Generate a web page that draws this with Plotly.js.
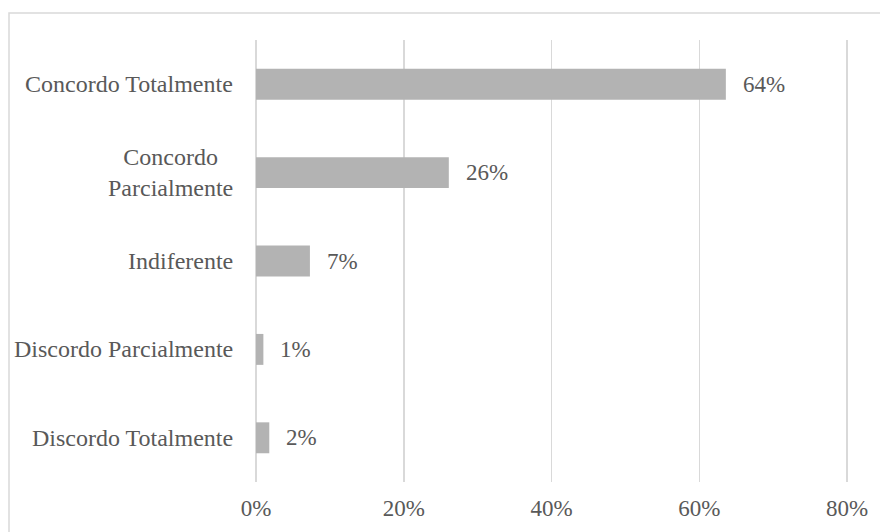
<!DOCTYPE html>
<html>
<head>
<meta charset="utf-8">
<script src="https://cdn.plot.ly/plotly-3.0.1.min.js"></script>
<style>
  html, body { margin: 0; padding: 0; background: #fff; }
  #chart { width: 880px; height: 532px; }
</style>
</head>
<body>
<div id="chart"></div>
<script>
const categories = ["Concordo Totalmente", "Concordo<br>Parcialmente", "Indiferente", "Discordo Parcialmente", "Discordo Totalmente"];
const values = [0.636, 0.261, 0.073, 0.010, 0.018];
const tickValues = [0, 0.2, 0.4, 0.6, 0.8];
const tickLabels = ["0%", "20%", "40%", "60%", "80%"];

const FONT = "Liberation Serif";
const TXT = "#595959";
const FS = 23;
const FS_CAT = 24;

const L = 254, R = 31, T = 40, B = 50;
const W = 880, H = 532;
const pw = W - L - R, ph = H - T - B;

const trace = {
  type: "bar",
  orientation: "h",
  y: categories,
  x: values,
  width: 0.35,
  marker: { color: "#b3b3b3" },
  hoverinfo: "none"
};

const annotations = [];
categories.forEach((c, i) => {
  annotations.push({
    xref: "x", yref: "y", x: 0, y: c, xanchor: "right", yanchor: "middle",
    xshift: -21, text: c, showarrow: false, align: "center",
    font: { family: FONT, size: FS_CAT, color: TXT }
  });
  annotations.push({
    xref: "x", yref: "y", x: values[i], y: c, xanchor: "left", yanchor: "middle",
    xshift: 15, text: Math.round(values[i] * 100) + "%", showarrow: false,
    font: { family: FONT, size: FS, color: TXT }
  });
});

const layout = {
  width: W, height: H,
  margin: { l: L, r: R, t: T, b: B, pad: 0 },
  paper_bgcolor: "#fff", plot_bgcolor: "#fff",
  showlegend: false,
  font: { family: FONT, size: FS, color: TXT },
  xaxis: {
    range: [-0.0027, 0.8027],
    tickvals: tickValues, ticktext: tickLabels,
    showgrid: true, gridcolor: "#d9d9d9", gridwidth: 1.5,
    zeroline: false, showline: false, ticks: "",
    ticklabelstandoff: 10,
    tickfont: { family: FONT, size: FS, color: TXT },
    fixedrange: true
  },
  yaxis: {
    type: "category",
    autorange: "reversed",
    showticklabels: false,
    showgrid: false, zeroline: false, showline: false, ticks: "",
    fixedrange: true
  },
  annotations: annotations,
  shapes: [{
    type: "rect", xref: "paper", yref: "paper",
    x0: (9 - L) / pw, x1: (W + 20 - L) / pw,
    y0: (H - B - (H + 20)) / ph, y1: (H - B - 13) / ph,
    line: { color: "#d9d9d9", width: 1.5 }, fillcolor: "rgba(0,0,0,0)", layer: "below"
  }]
};

Plotly.newPlot("chart", [trace], layout, { displayModeBar: false, staticPlot: true });
</script>
</body>
</html>
